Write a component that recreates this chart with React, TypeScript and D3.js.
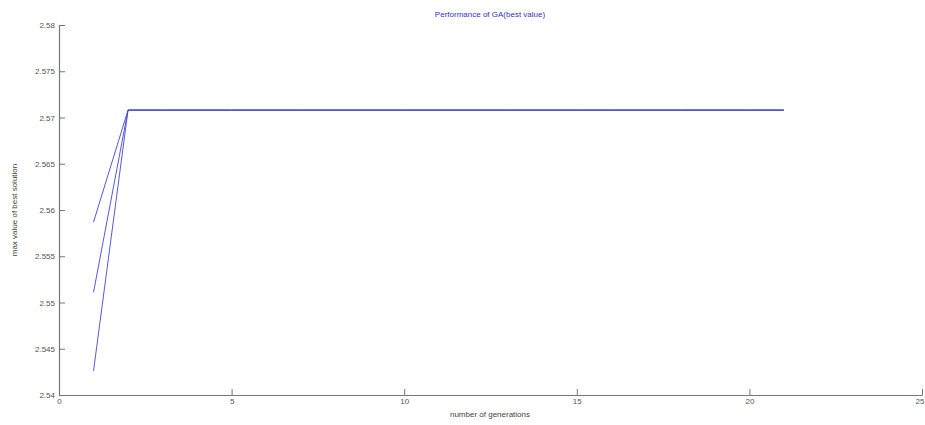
import * as d3 from "d3";
import { useRef, useEffect } from "react";

const generations = [1, 2, 3, 4, 5, 6, 7, 8, 9, 10, 11, 12, 13, 14, 15, 16, 17, 18, 19, 20, 21];
const run1 = [2.5587, 2.5708, 2.5708, 2.5708, 2.5708, 2.5708, 2.5708, 2.5708, 2.5708, 2.5708, 2.5708, 2.5708, 2.5708, 2.5708, 2.5708, 2.5708, 2.5708, 2.5708, 2.5708, 2.5708, 2.5708];
const run2 = [2.5511, 2.5708, 2.5708, 2.5708, 2.5708, 2.5708, 2.5708, 2.5708, 2.5708, 2.5708, 2.5708, 2.5708, 2.5708, 2.5708, 2.5708, 2.5708, 2.5708, 2.5708, 2.5708, 2.5708, 2.5708];
const run3 = [2.5426, 2.5708, 2.5708, 2.5708, 2.5708, 2.5708, 2.5708, 2.5708, 2.5708, 2.5708, 2.5708, 2.5708, 2.5708, 2.5708, 2.5708, 2.5708, 2.5708, 2.5708, 2.5708, 2.5708, 2.5708];
const xTicks = [0, 5, 10, 15, 20, 25];
const yTicks = [2.54, 2.545, 2.55, 2.555, 2.56, 2.565, 2.57, 2.575, 2.58];

const App = () => {
    const svgRef = useRef<SVGSVGElement | null>(null);

    useEffect(() => {
        const totalWidth = 925;
        const totalHeight = 425;
        const margin = { left: 59, right: 3, top: 25, bottom: 30 };
        const width = totalWidth - margin.left - margin.right;
        const height = totalHeight - margin.top - margin.bottom;

        const root = d3.select(svgRef.current);
        root.selectAll("*").remove();

        const svg = root.append("g")
            .attr("transform", `translate(${margin.left},${margin.top})`);

        const xScale = d3.scaleLinear().domain([0, 25]).range([0, width]);
        const yScale = d3.scaleLinear().domain([2.54, 2.58]).range([height, 0]);

        // x axis, ticks pointing inward
        const xAxis = svg.append("g")
            .attr("transform", `translate(0, ${height})`)
            .call(d3.axisBottom(xScale).tickValues(xTicks).tickSizeInner(-6).tickSizeOuter(0).tickPadding(3).tickFormat(d3.format("d")));

        const yAxis = svg.append("g")
            .call(d3.axisLeft(yScale).tickValues(yTicks).tickSizeInner(-6).tickSizeOuter(0).tickPadding(4).tickFormat(d => String(d)));

        [xAxis, yAxis].forEach(ax => {
            ax.select(".domain").attr("stroke", "#777").attr("stroke-width", 1.2);
            ax.selectAll(".tick line").attr("stroke", "#777");
            ax.selectAll(".tick text")
                .attr("fill", "#555")
                .style("font-family", "Arial, 'Liberation Sans', sans-serif")
                .style("font-size", "8px");
        });

        // keep the last x label inside the picture
        xAxis.selectAll<SVGTextElement, number>(".tick text")
            .filter(d => d === 25)
            .attr("text-anchor", "end")
            .attr("dx", "2");

        const line = d3.line<number>()
            .x((_, i) => xScale(generations[i]))
            .y(d => yScale(d));

        [run1, run2, run3].forEach(run => {
            svg.append("path")
                .datum(run)
                .attr("fill", "none")
                .attr("stroke", "#4444dd")
                .attr("stroke-width", 0.9)
                .attr("d", line);
        });

        root.append("text")
            .attr("x", 490)
            .attr("y", 17)
            .attr("text-anchor", "middle")
            .attr("fill", "#3333cc")
            .style("font-family", "Arial, 'Liberation Sans', sans-serif")
            .style("font-size", "8px")
            .text("Performance of GA(best value)");

        root.append("text")
            .attr("x", 490)
            .attr("y", 417)
            .attr("text-anchor", "middle")
            .attr("fill", "#444")
            .style("font-family", "Arial, 'Liberation Sans', sans-serif")
            .style("font-size", "8px")
            .text("number of generations");

        root.append("text")
            .attr("transform", `translate(17, ${margin.top + height / 2}) rotate(-90)`)
            .attr("text-anchor", "middle")
            .attr("fill", "#444")
            .style("font-family", "Arial, 'Liberation Sans', sans-serif")
            .style("font-size", "8px")
            .text("max value of best solution");
    }, []);

    return (
        <svg
            ref={svgRef}
            width={925}
            height={425}
            style={{ position: "absolute", left: 0, top: 0, background: "white" }}
        />
    );
};

export default App;
